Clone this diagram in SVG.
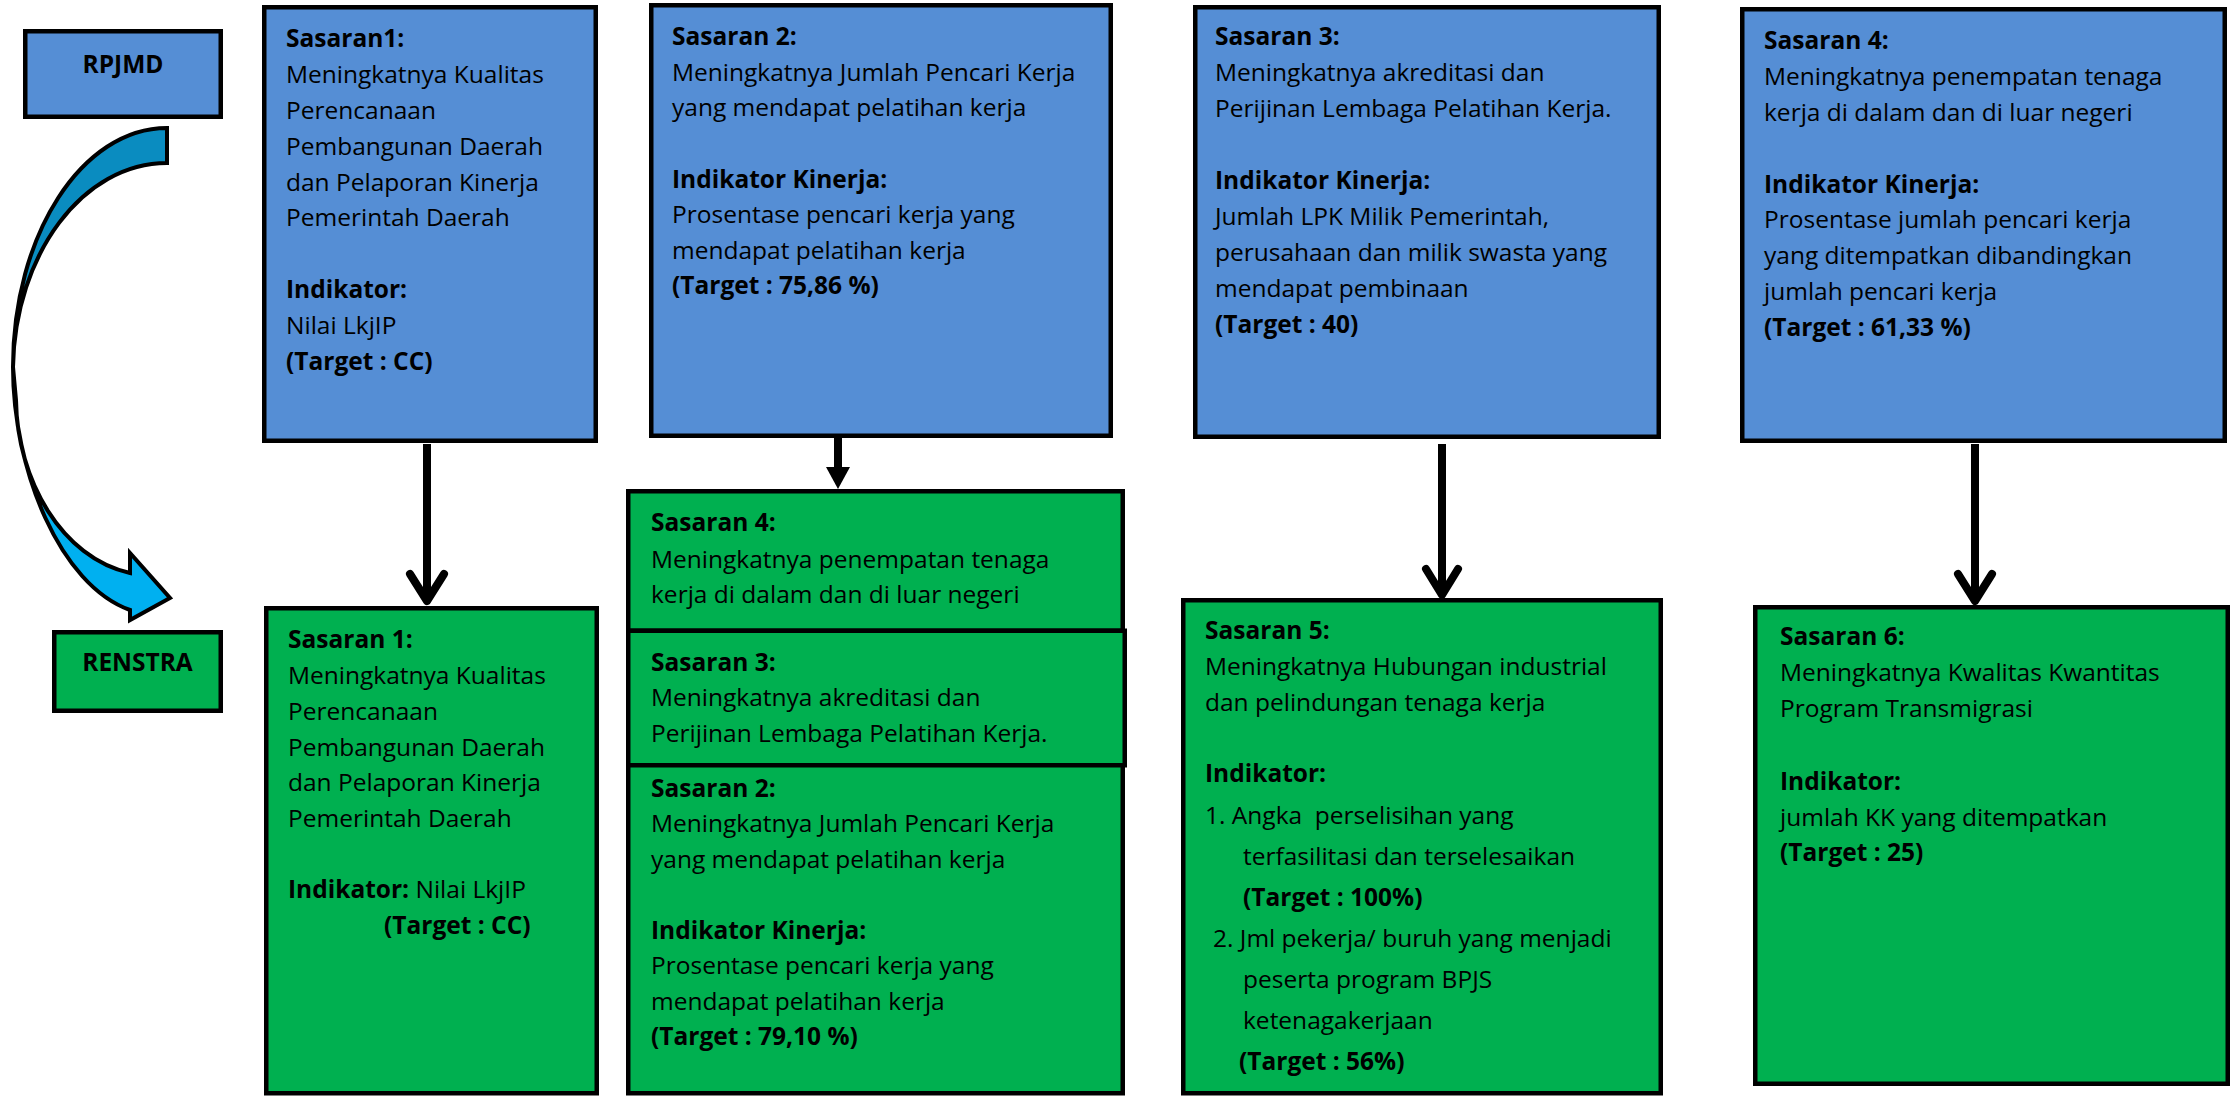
<svg xmlns="http://www.w3.org/2000/svg" width="2234" height="1097" viewBox="0 0 2234 1097">
<style>
.t{font-family:'Open Sans','Noto Sans',sans-serif;font-size:24.5px;fill:#000}
.b{font-weight:bold}
.blue{fill:#558ED5;stroke:#000;stroke-width:4.5}
.green{fill:#00B050;stroke:#000;stroke-width:4.5}
.conn{stroke:#000;stroke-width:8;fill:none}
.head{fill:#000;stroke:none}
.cv{stroke:#000;stroke-width:4;stroke-linejoin:miter}
</style>
<rect width="2234" height="1097" fill="#fff"/>

<g id="curved-arrow">
<path class="cv" fill="#0A8CC0" d="M167,128 C82,128 13,235 13,367 C15,254 83,163 167,163 Z"/>
<path class="cv" fill="#00B0F0" d="M13,367 C13,470 60,585 130,610 L130,620 L170,598 L130,553 L130,573 C62,558 17,480 16,400 Z"/>
</g>

<g id="rpjmd">
<rect class="blue" x="25.25" y="31.25" width="195.5" height="85.5"/>
<text class="t b" x="123" y="73" text-anchor="middle">RPJMD</text>
</g>
<g id="renstra">
<rect class="green" x="54.25" y="632.25" width="166.5" height="78.5"/>
<text class="t b" x="137.5" y="671" text-anchor="middle">RENSTRA</text>
</g>

<g id="rpjmd-sasaran1">
<rect class="blue" x="264.25" y="7.25" width="331.5" height="433.5"/>
<text class="t" x="286">
<tspan class="b" x="286" y="47">Sasaran1:</tspan>
<tspan x="286" y="83">Meningkatnya Kualitas</tspan>
<tspan x="286" y="119">Perencanaan</tspan>
<tspan x="286" y="155">Pembangunan Daerah</tspan>
<tspan x="286" y="190.5">dan Pelaporan Kinerja</tspan>
<tspan x="286" y="226">Pemerintah Daerah</tspan>
<tspan class="b" x="286" y="298">Indikator:</tspan>
<tspan x="286" y="334">Nilai LkjIP</tspan>
<tspan class="b" x="286" y="370">(Target : CC)</tspan>
</text>
</g>

<g id="rpjmd-sasaran2">
<rect class="blue" x="651.25" y="5.25" width="459.5" height="430.5"/>
<text class="t" x="672">
<tspan class="b" x="672" y="45">Sasaran 2:</tspan>
<tspan x="672" y="80.5">Meningkatnya Jumlah Pencari Kerja</tspan>
<tspan x="672" y="116">yang mendapat pelatihan kerja</tspan>
<tspan class="b" x="672" y="187.5">Indikator Kinerja:</tspan>
<tspan x="672" y="223">Prosentase pencari kerja yang</tspan>
<tspan x="672" y="258.5">mendapat pelatihan kerja</tspan>
<tspan class="b" x="672" y="294">(Target : 75,86 %)</tspan>
</text>
</g>

<g id="rpjmd-sasaran3">
<rect class="blue" x="1195.25" y="7.25" width="463.5" height="429.5"/>
<text class="t" x="1215">
<tspan class="b" x="1215" y="45">Sasaran 3:</tspan>
<tspan x="1215" y="81">Meningkatnya akreditasi dan</tspan>
<tspan x="1215" y="117">Perijinan Lembaga Pelatihan Kerja.</tspan>
<tspan class="b" x="1215" y="188.5">Indikator Kinerja:</tspan>
<tspan x="1215" y="224.5">Jumlah LPK Milik Pemerintah,</tspan>
<tspan x="1215" y="260.5">perusahaan dan milik swasta yang</tspan>
<tspan x="1215" y="296.5">mendapat pembinaan</tspan>
<tspan class="b" x="1215" y="332.5">(Target : 40)</tspan>
</text>
</g>

<g id="rpjmd-sasaran4">
<rect class="blue" x="1742.25" y="9.25" width="482.5" height="431.5"/>
<text class="t" x="1764">
<tspan class="b" x="1764" y="48.5">Sasaran 4:</tspan>
<tspan x="1764" y="84.5">Meningkatnya penempatan tenaga</tspan>
<tspan x="1764" y="120.5">kerja di dalam dan di luar negeri</tspan>
<tspan class="b" x="1764" y="192.5">Indikator Kinerja:</tspan>
<tspan x="1764" y="228">Prosentase jumlah pencari kerja</tspan>
<tspan x="1764" y="264">yang ditempatkan dibandingkan</tspan>
<tspan x="1764" y="300">jumlah pencari kerja</tspan>
<tspan class="b" x="1764" y="335.5">(Target : 61,33 %)</tspan>
</text>
</g>

<g id="renstra-sasaran1">
<rect class="green" x="266.25" y="608.25" width="330.5" height="485"/>
<text class="t" x="288">
<tspan class="b" x="288" y="648">Sasaran 1:</tspan>
<tspan x="288" y="684">Meningkatnya Kualitas</tspan>
<tspan x="288" y="719.5">Perencanaan</tspan>
<tspan x="288" y="755.5">Pembangunan Daerah</tspan>
<tspan x="288" y="791">dan Pelaporan Kinerja</tspan>
<tspan x="288" y="827">Pemerintah Daerah</tspan>
<tspan x="288" y="898"><tspan class="b">Indikator:</tspan> Nilai LkjIP</tspan>
<tspan class="b" x="384" y="934">(Target : CC)</tspan>
</text>
</g>

<g id="renstra-sasaran4">
<rect class="green" x="628.25" y="491.25" width="494.5" height="139.5"/>
<text class="t" x="651">
<tspan class="b" x="651" y="531">Sasaran 4:</tspan>
<tspan x="651" y="567.5">Meningkatnya penempatan tenaga</tspan>
<tspan x="651" y="603">kerja di dalam dan di luar negeri</tspan>
</text>
</g>
<g id="renstra-sasaran3">
<rect class="green" x="628.25" y="630.75" width="496.5" height="134.5"/>
<text class="t" x="651">
<tspan class="b" x="651" y="670.5">Sasaran 3:</tspan>
<tspan x="651" y="706">Meningkatnya akreditasi dan</tspan>
<tspan x="651" y="742">Perijinan Lembaga Pelatihan Kerja.</tspan>
</text>
</g>
<g id="renstra-sasaran2">
<rect class="green" x="628.25" y="765.25" width="494.5" height="328"/>
<text class="t" x="651">
<tspan class="b" x="651" y="796.5">Sasaran 2:</tspan>
<tspan x="651" y="832">Meningkatnya Jumlah Pencari Kerja</tspan>
<tspan x="651" y="867.5">yang mendapat pelatihan kerja</tspan>
<tspan class="b" x="651" y="938.5">Indikator Kinerja:</tspan>
<tspan x="651" y="974">Prosentase pencari kerja yang</tspan>
<tspan x="651" y="1009.5">mendapat pelatihan kerja</tspan>
<tspan class="b" x="651" y="1045">(Target : 79,10 %)</tspan>
</text>
</g>

<g id="renstra-sasaran5">
<rect class="green" x="1183.25" y="600.25" width="477.5" height="493"/>
<text class="t" x="1205" xml:space="preserve"><tspan class="b" x="1205" y="639">Sasaran 5:</tspan><tspan x="1205" y="675">Meningkatnya Hubungan industrial</tspan><tspan x="1205" y="710.5">dan pelindungan tenaga kerja</tspan><tspan class="b" x="1205" y="781.5">Indikator:</tspan><tspan x="1205" y="823.5">1. Angka  perselisihan yang</tspan><tspan x="1243" y="865">terfasilitasi dan terselesaikan</tspan><tspan class="b" x="1243" y="905.5">(Target : 100%)</tspan><tspan x="1213" y="947">2. Jml pekerja/ buruh yang menjadi</tspan><tspan x="1243" y="987.5">peserta program BPJS</tspan><tspan x="1243" y="1029">ketenagakerjaan</tspan><tspan class="b" x="1239" y="1070">(Target : 56%)</tspan></text>
</g>

<g id="renstra-sasaran6">
<rect class="green" x="1755.25" y="607.25" width="472.5" height="476.5"/>
<text class="t" x="1780">
<tspan class="b" x="1780" y="645">Sasaran 6:</tspan>
<tspan x="1780" y="681">Meningkatnya Kwalitas Kwantitas</tspan>
<tspan x="1780" y="716.5">Program Transmigrasi</tspan>
<tspan class="b" x="1780" y="790">Indikator:</tspan>
<tspan x="1780" y="825.5">jumlah KK yang ditempatkan</tspan>
<tspan class="b" x="1780" y="861">(Target : 25)</tspan>
</text>
</g>

<g id="connectors">
<path class="conn" d="M427,444 V600"/>
<path class="conn" stroke-linejoin="round" stroke-linecap="round" d="M410,574 L427,601 L444,574"/>
<path class="conn" d="M838,438 V470"/>
<path class="head" d="M826,467 L850,467 L838,489 Z"/>
<path class="conn" d="M1442,444 V594"/>
<path class="conn" stroke-linejoin="round" stroke-linecap="round" d="M1426,569 L1442,595 L1458,569"/>
<path class="conn" d="M1975,444 V600"/>
<path class="conn" stroke-linejoin="round" stroke-linecap="round" d="M1958,574 L1975,601 L1992,574"/>
</g>
</svg>
